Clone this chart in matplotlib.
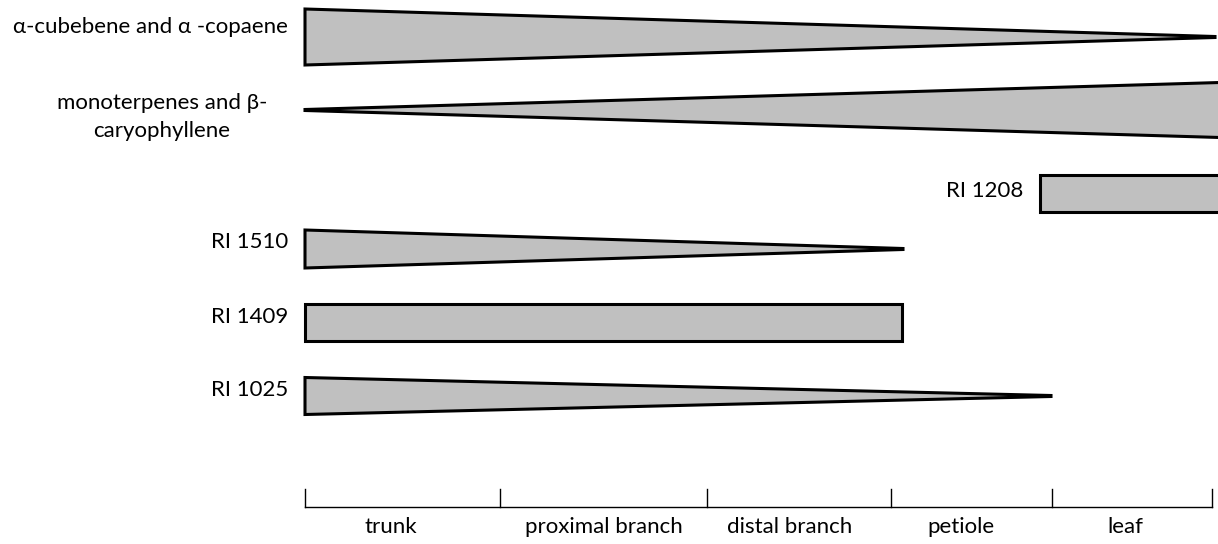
import matplotlib.pyplot as plt
from matplotlib.patches import Polygon

plt.rcParams['font.family'] = ['Lato', 'DejaVu Sans']

# compounds: label, start, end, height at start, height at end, row centre
labels = ["α-cubebene and α -copaene", "monoterpenes and β-\ncaryophyllene",
          "RI 1208", "RI 1510", "RI 1409", "RI 1025"]
x_start = [305, 305, 1040, 305, 305, 305]
x_end = [1215, 1220, 1220, 903, 902, 1051]
h_start = [56, 1, 37, 38, 37, 37]
h_end = [1, 55, 37, 1, 37, 1]
y_mid = [37, 110, 193, 249, 322, 396]
label_y = [27, 117, 191, 242, 317, 390]

# tissue axis
tissues = ["trunk", "proximal branch", "distal branch", "petiole", "leaf"]
tissue_x = [391, 604, 790, 961, 1125]
bounds = [305, 500, 707, 891, 1052, 1212]

fig = plt.figure(figsize=(12.18, 5.44), dpi=100)
ax = fig.add_axes([0, 0, 1, 1])
ax.set_xlim(0, 1218)
ax.set_ylim(544, 0)
ax.axis('off')

fs = 16
for i in range(len(labels)):
    x0, x1 = x_start[i], x_end[i]
    a, b = h_start[i] / 2, h_end[i] / 2
    yc = y_mid[i]
    pts = [(x0, yc - a), (x1, yc - b), (x1, yc + b), (x0, yc + a)]
    ax.add_patch(Polygon(pts, closed=True, facecolor='#c0c0c0', edgecolor='black',
                         linewidth=2.2, joinstyle='miter', clip_on=False))
    if '\n' in labels[i]:
        ax.text(162, label_y[i], labels[i], ha='center', va='center', fontsize=fs,
                linespacing=1.45)
    else:
        ax.text(x0 - 17, label_y[i], labels[i], ha='right', va='center', fontsize=fs)

# axis line with ticks
ax.plot([bounds[0], bounds[-1]], [507, 507], color='black', linewidth=1)
for b in bounds:
    ax.plot([b, b], [489, 507], color='black', linewidth=1)
for i, t in enumerate(tissues):
    ax.text(tissue_x[i], 527, t, ha='center', va='center', fontsize=fs)

fig.savefig('out.png', dpi=100)
